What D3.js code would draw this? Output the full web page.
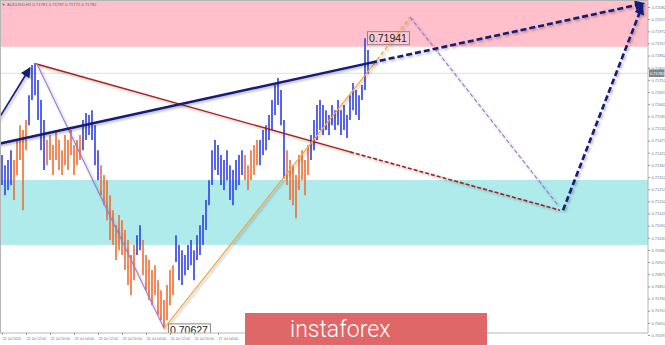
<!DOCTYPE html>
<html>
<head>
<meta charset="utf-8">
<script src="https://cdn.jsdelivr.net/npm/d3@7"></script>
<style>
  body { margin: 0; background: #fff; }
  svg { display: block; font-family: "Liberation Sans", Arial, sans-serif; }
</style>
</head>
<body>
<svg id="chart" width="665" height="345"></svg>
<script>
// ---- data (hourly bars, AUDUSD) ----
const barHigh = [
  0.71412, 0.71366, 0.71389, 0.71434, 0.71389, 0.71480, 0.71547, 0.71525, 0.71570, 0.71683,
  0.71819, 0.71828, 0.71751, 0.71661, 0.71570, 0.71480, 0.71502, 0.71457, 0.71525, 0.71480,
  0.71434, 0.71502, 0.71480, 0.71525, 0.71457, 0.71480, 0.71502, 0.71570, 0.71602, 0.71593,
  0.71615, 0.71547, 0.71434, 0.71366, 0.71321, 0.71298, 0.71230, 0.71162, 0.71094, 0.71140,
  0.71117, 0.71072, 0.71027, 0.70959, 0.71004, 0.71049, 0.71094, 0.71027, 0.70959, 0.70936,
  0.70891, 0.70913, 0.70845, 0.70800, 0.70755, 0.70823, 0.70891, 0.70913, 0.71049, 0.71004,
  0.70981, 0.70959, 0.71004, 0.71027, 0.70981, 0.71049, 0.71094, 0.71140, 0.71208, 0.71298,
  0.71434, 0.71480, 0.71457, 0.71412, 0.71389, 0.71434, 0.71366, 0.71344, 0.71389, 0.71412,
  0.71434, 0.71412, 0.71366, 0.71434, 0.71457, 0.71480, 0.71480, 0.71525, 0.71547, 0.71593,
  0.71661, 0.71729, 0.71760, 0.71706, 0.71570, 0.71434, 0.71389, 0.71366, 0.71321, 0.71412,
  0.71434, 0.71389, 0.71457, 0.71502, 0.71570, 0.71638, 0.71661, 0.71638, 0.71615, 0.71593,
  0.71638, 0.71615, 0.71661, 0.71615, 0.71638, 0.71593, 0.71683, 0.71738, 0.71706, 0.71683,
  0.71729, 0.71941, 0.71887
];
const barLow = [
  0.71276, 0.71230, 0.71253, 0.71276, 0.71208, 0.71321, 0.71389, 0.71162, 0.71434, 0.71547,
  0.71661, 0.71683, 0.71570, 0.71434, 0.71344, 0.71366, 0.71389, 0.71321, 0.71389, 0.71344,
  0.71321, 0.71366, 0.71344, 0.71412, 0.71321, 0.71366, 0.71389, 0.71434, 0.71480, 0.71502,
  0.71480, 0.71366, 0.71298, 0.71230, 0.71185, 0.71117, 0.71027, 0.71004, 0.70936, 0.70981,
  0.70959, 0.70891, 0.70823, 0.70777, 0.70845, 0.70959, 0.70981, 0.70868, 0.70800, 0.70755,
  0.70732, 0.70777, 0.70687, 0.70664, 0.70627, 0.70664, 0.70732, 0.70777, 0.70927, 0.70845,
  0.70823, 0.70868, 0.70891, 0.70913, 0.70845, 0.70936, 0.70959, 0.71004, 0.71072, 0.71185,
  0.71276, 0.71344, 0.71321, 0.71276, 0.71253, 0.71298, 0.71208, 0.71185, 0.71253, 0.71276,
  0.71321, 0.71298, 0.71253, 0.71298, 0.71321, 0.71366, 0.71366, 0.71412, 0.71434, 0.71480,
  0.71525, 0.71593, 0.71638, 0.71547, 0.71307, 0.71276, 0.71208, 0.71185, 0.71126, 0.71253,
  0.71298, 0.71230, 0.71321, 0.71389, 0.71434, 0.71480, 0.71525, 0.71502, 0.71525, 0.71502,
  0.71547, 0.71525, 0.71547, 0.71502, 0.71525, 0.71489, 0.71570, 0.71615, 0.71593, 0.71570,
  0.71661, 0.71706, 0.71780
];
// u = bull bar (blue), d = bear bar (orange)
const barDir = ('uuuudddddu uuuuuddddd ddddddduuu uuuddddddd ddddduuddd ' +
                'dddddddduu uuuuuuuuuu uuuuuuuuuu uddddduuuu uuuuuddddd ' +
                'ddduuuuuuu uuuuuuuuuu uuu').replace(/ /g, '').split('');

// zones (price ranges)
const sellZone = [0.71902, 0.72200];
const buyZone = [0.71005, 0.71299];

// wave lines: points as {i: bar index, p: price}
const waveA = [{i: -3, p: 0.71534}, {i: 9.3, p: 0.71806}];
const waveBSolid = [{i: -1, p: 0.71463}, {i: 123, p: 0.71830}];
const waveBDash = [{i: 123, p: 0.71830}, {i: 214, p: 0.72098}];
const waveCSolid = [{i: 11.5, p: 0.71824}, {i: 116, p: 0.71426}];
const waveCDash = [{i: 116, p: 0.71426}, {i: 186, p: 0.71162}];
const waveD = [{i: 11.5, p: 0.71828}, {i: 54, p: 0.70627}];
const waveESolid = [{i: 54, p: 0.70627}, {i: 125, p: 0.71842}];
const waveEDash = [{i: 125, p: 0.71842}, {i: 136, p: 0.72037}];
const waveF = [{i: 136, p: 0.72037}, {i: 185.3, p: 0.71185}];
const waveG = [{i: 187, p: 0.71162}, {i: 213.5, p: 0.72090}];

const lastPrice = 0.71782;
const highMark = {i: 121, p: 0.71941};
const lowMark = {i: 54, p: 0.70627};

const priceTicks = [
  0.72082, 0.72027, 0.71972, 0.71917, 0.71862, 0.71807, 0.71752, 0.71697, 0.71642, 0.71587,
  0.71532, 0.71477, 0.71422, 0.71367, 0.71312, 0.71257, 0.71202, 0.71147, 0.71092, 0.71037,
  0.70982, 0.70927, 0.70872, 0.70817, 0.70762, 0.70707, 0.70652, 0.70597
];
// only the labels left of the watermark are visible
const timeLabels = [
  '22 Jul 2020', '22 Jul 12:00', '22 Jul 20:00', '23 Jul 04:00', '23 Jul 12:00',
  '23 Jul 20:00', '24 Jul 04:00', '24 Jul 12:00', '24 Jul 20:00', '27 Jul 04:00'
];
const titleText = 'AUDUSD,H1  0.71781 0.71797 0.71772 0.71782';

// ---- layout ----
const svg = d3.select('#chart');
const plotRight = 648, plotBottom = 333, plotTop = 1;

const x = d3.scaleLinear().domain([0, 122]).range([2, 368]);
const y = d3.scaleLinear().domain([0.70597, 0.72082]).range([335, 7]);

const defs = svg.append('defs');
defs.append('clipPath').attr('id', 'clip')
  .append('rect').attr('x', 0).attr('y', plotTop)
  .attr('width', plotRight).attr('height', plotBottom - plotTop);

defs.append('filter').attr('id', 'shadow')
  .attr('x', '-10%').attr('y', '-10%').attr('width', '120%').attr('height', '120%')
  .append('feDropShadow')
  .attr('dx', 1.5).attr('dy', 1.5).attr('stdDeviation', 0.8)
  .attr('flood-color', '#000').attr('flood-opacity', 0.3);

defs.append('marker').attr('id', 'arrow')
  .attr('viewBox', '0 0 10 10').attr('refX', 9).attr('refY', 5)
  .attr('markerWidth', 11).attr('markerHeight', 10)
  .attr('markerUnits', 'userSpaceOnUse').attr('orient', 'auto')
  .append('path').attr('d', 'M0,0 L10,5 L0,10 Z').attr('fill', '#141a78');

const plot = svg.append('g').attr('clip-path', 'url(#clip)');

// zones
plot.append('rect')
  .attr('x', 0).attr('width', plotRight)
  .attr('y', y(sellZone[1])).attr('height', y(sellZone[0]) - y(sellZone[1]))
  .attr('fill', '#ffc0cb');
plot.append('rect')
  .attr('x', 0).attr('width', plotRight)
  .attr('y', y(buyZone[1])).attr('height', y(buyZone[0]) - y(buyZone[1]))
  .attr('fill', '#afebeb');

// last price line
plot.append('line')
  .attr('x1', 0).attr('x2', plotRight)
  .attr('y1', y(lastPrice)).attr('y2', y(lastPrice))
  .attr('stroke', '#d8d8d8').attr('stroke-width', 0.8);

// bars
plot.append('g').selectAll('line')
  .data(d3.range(barHigh.length))
  .join('line')
  .attr('x1', i => x(i)).attr('x2', i => x(i))
  .attr('y1', i => y(barHigh[i])).attr('y2', i => y(barLow[i]))
  .attr('stroke', i => barDir[i] === 'u' ? '#2f3fe6' : '#f06d32')
  .attr('stroke-width', 1.6);

// wave lines
const line = d3.line().x(d => x(d.i)).y(d => y(d.p));
const waves = [
  {pts: waveCSolid, color: '#a3221e', width: 1.4, dash: null},
  {pts: waveCDash, color: '#a3221e', width: 1.6, dash: '4,2'},
  {pts: waveD, color: '#9a78d8', width: 1.1, dash: null},
  {pts: waveF, color: '#9a78d8', width: 1.2, dash: '4,2.5'},
  {pts: waveESolid, color: '#f3a63a', width: 1.2, dash: null},
  {pts: waveEDash, color: '#f3a63a', width: 1.4, dash: '4,2.5'},
  {pts: waveA, color: '#141a78', width: 1.6, dash: null, arrow: true},
  {pts: waveBSolid, color: '#141a78', width: 2.4, dash: null},
  {pts: waveBDash, color: '#141a78', width: 2.6, dash: '6,3', arrow: true},
  {pts: waveG, color: '#141a78', width: 2.6, dash: '6,3', arrow: true}
];
plot.append('g').selectAll('path')
  .data(waves)
  .join('path')
  .attr('d', d => line(d.pts))
  .attr('fill', 'none')
  .attr('stroke', d => d.color)
  .attr('stroke-width', d => d.width)
  .attr('stroke-dasharray', d => d.dash)
  .attr('filter', 'url(#shadow)')
  .attr('marker-end', d => d.arrow ? 'url(#arrow)' : null);

// high / low labels
function priceBox(mark, dx, dy) {
  const g = plot.append('g')
    .attr('transform', `translate(${x(mark.i) + dx},${y(mark.p) + dy})`);
  const t = g.append('text')
    .attr('x', 2).attr('y', 10.5)
    .attr('font-size', 10.5).attr('fill', '#222')
    .text(d3.format('.5f')(mark.p));
  const w = t.node().getComputedTextLength() + 4;
  g.insert('rect', 'text')
    .attr('x', 0.5).attr('y', 0.5).attr('width', w).attr('height', 13)
    .attr('fill', 'rgba(255,255,255,0.15)').attr('stroke', '#888').attr('stroke-width', 1);
}
priceBox(highMark, 2, -7);
priceBox(lowMark, 4, -5);

// frame
svg.append('rect')
  .attr('x', 0.5).attr('y', 0.5)
  .attr('width', plotRight - 0.5).attr('height', plotBottom - 0.5)
  .attr('fill', 'none').attr('stroke', '#b5b5b5').attr('stroke-width', 1);

// right price axis
const yAxis = svg.append('g')
  .attr('transform', `translate(${plotRight},0)`)
  .call(d3.axisRight(y).tickValues(priceTicks).tickSize(2).tickPadding(1.5)
    .tickFormat(d3.format('.5f')));
yAxis.select('.domain').remove();
yAxis.selectAll('line').attr('stroke', '#999');
yAxis.selectAll('text').attr('font-size', 4).attr('fill', '#777')
  .attr('font-family', '"Liberation Sans", Arial, sans-serif');

// last price tag
const tag = svg.append('g').attr('transform', `translate(${plotRight},${y(lastPrice)})`);
tag.append('rect').attr('x', 1).attr('y', -3.8).attr('width', 15.5).attr('height', 7.6).attr('fill', '#7e8790');
tag.append('text').attr('x', 2).attr('y', 1.4)
  .attr('font-size', 4).attr('fill', '#fff').text(d3.format('.5f')(lastPrice));

// bottom time axis
const timeIdx = timeLabels.map((d, k) => k * 8);
const xAxis = svg.append('g')
  .attr('transform', `translate(0,${plotBottom})`)
  .call(d3.axisBottom(x).tickValues(timeIdx).tickSize(2).tickPadding(2)
    .tickFormat((d, k) => timeLabels[k]));
xAxis.select('.domain').remove();
xAxis.selectAll('line').attr('stroke', '#999');
xAxis.selectAll('text').attr('font-size', 3.6).attr('fill', '#777')
  .attr('text-anchor', 'start')
  .attr('font-family', '"Liberation Sans", Arial, sans-serif');

// title
svg.append('text').attr('x', 1.5).attr('y', 6)
  .attr('font-size', 4).attr('fill', '#666').text('\u25BC');
svg.append('text').attr('x', 7).attr('y', 6)
  .attr('font-size', 4.2).attr('fill', '#666').text(titleText);

// watermark banner
const banner = svg.append('g');
banner.append('rect')
  .attr('x', 245).attr('y', 313).attr('width', 242).attr('height', 34)
  .attr('fill', '#e06767');
banner.append('text')
  .attr('x', 290).attr('y', 337)
  .attr('font-family', 'Roboto, "Open Sans", sans-serif')
  .attr('font-weight', 300)
  .attr('font-size', 23)
  .attr('fill', '#fff')
  .text('instaforex');
</script>
</body>
</html>
